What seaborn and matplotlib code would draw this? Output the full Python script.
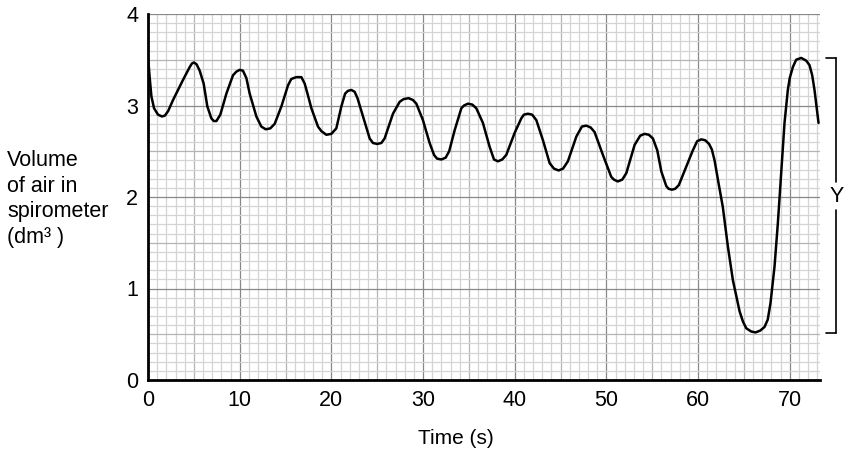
import numpy as np
import pandas as pd
import seaborn as sns
import matplotlib.pyplot as plt

# values
time_s = [0.0, 0.18, 0.37, 0.66, 1.09, 1.53, 1.85, 2.2, 2.73, 3.82, 4.55, 4.8,
          5.02, 5.3, 5.64, 6.07, 6.47, 6.91, 7.17, 7.46, 7.89, 8.55, 9.27,
          9.64, 10.0, 10.36, 10.73, 11.09, 11.82, 12.36, 12.84, 13.34, 13.82,
          14.55, 15.27, 15.63, 16.18, 16.73, 17.09, 17.45, 17.82, 18.54, 18.91,
          19.45, 20.0, 20.54, 21.09, 21.5, 21.81, 22.18, 22.54, 22.85, 23.45,
          24.18, 24.54, 25.0, 25.45, 25.81, 26.72, 27.45, 27.88, 28.43, 28.9,
          29.27, 29.99, 30.72, 31.2, 31.52, 32.0, 32.47, 32.85, 33.45, 34.18,
          34.47, 34.9, 35.37, 35.81, 36.53, 37.26, 37.74, 38.17, 38.64, 39.08,
          39.99, 40.72, 41.0, 41.44, 41.9, 42.36, 43.08, 43.81, 44.28, 44.79,
          45.27, 45.8, 46.72, 47.33, 47.81, 48.28, 48.71, 49.62, 50.53, 50.82,
          51.25, 51.73, 52.17, 53.08, 53.69, 54.17, 54.63, 55.07, 55.55, 55.99,
          56.53, 56.78, 57.14, 57.51, 57.9, 58.71, 59.43, 59.9, 60.35, 60.78,
          61.2, 61.5, 61.8, 62.2, 62.7, 63.25, 63.8, 64.53, 64.89, 65.26, 65.8,
          66.27, 66.78, 67.25, 67.6, 67.9, 68.34, 68.7, 69.07, 69.43, 69.79,
          70.0, 70.34, 70.7, 71.25, 71.8, 72.16, 72.45, 72.7, 73.14]
volume_dm3 = [3.53, 3.31, 3.10, 2.97, 2.90, 2.88, 2.89, 2.94, 3.06, 3.28, 3.42, 3.46,
              3.47, 3.45, 3.38, 3.24, 2.99, 2.86, 2.83, 2.83, 2.90, 3.13, 3.33,
              3.37, 3.39, 3.38, 3.30, 3.13, 2.88, 2.77, 2.74, 2.75, 2.80,
              2.99, 3.22, 3.29, 3.31, 3.31, 3.24, 3.11, 2.97, 2.77, 2.72,
              2.68, 2.69, 2.75, 2.99, 3.13, 3.16, 3.17, 3.15, 3.08, 2.88,
              2.64, 2.59, 2.58, 2.59, 2.64, 2.91, 3.04, 3.07, 3.08, 3.06,
              3.02, 2.84, 2.59, 2.46, 2.42, 2.41, 2.43, 2.50, 2.73, 2.97,
              3.00, 3.02, 3.01, 2.97, 2.81, 2.55, 2.41, 2.39, 2.41, 2.46,
              2.70, 2.86, 2.90, 2.91, 2.90, 2.84, 2.62, 2.37, 2.31, 2.29,
              2.31, 2.39, 2.66, 2.77, 2.78, 2.76, 2.71, 2.46, 2.22, 2.19,
              2.17, 2.19, 2.26, 2.57, 2.67, 2.69, 2.68, 2.64, 2.51, 2.28,
              2.12, 2.09, 2.08, 2.09, 2.13, 2.33, 2.51, 2.61, 2.63, 2.62,
              2.58, 2.52, 2.40, 2.17, 1.89, 1.46, 1.09, 0.75, 0.64, 0.565, 0.53,
              0.52, 0.54, 0.58, 0.66, 0.84, 1.24, 1.71, 2.26, 2.81, 3.17,
              3.30, 3.42, 3.50, 3.52, 3.49, 3.44, 3.33, 3.17, 2.81]
x_ticks = [0, 10, 20, 30, 40, 50, 60, 70]
y_ticks = [0, 1, 2, 3, 4]

df = pd.DataFrame({"t": time_s, "v": volume_dm3})

sns.set_style("white")
plt.rcParams["font.family"] = ["Liberation Sans", "DejaVu Sans"]
plt.rcParams["text.color"] = "black"

fig = plt.figure(figsize=(8.5, 4.58), dpi=100)
ax = fig.add_axes([148 / 850, 1 - 380 / 458, 672 / 850, 366 / 458])
ax.set_xlim(0, 73.3)
ax.set_ylim(0, 4)

# graph paper
for x in np.arange(1, 74, 1):
    c = "#888888" if x % 10 == 0 else ("#b4b4b4" if x % 5 == 0 else "#d4d4d4")
    ax.axvline(x, color=c, lw=0.9, zorder=0)
for y in np.arange(1, 41, 1):
    c = "#888888" if y % 10 == 0 else ("#b4b4b4" if y % 5 == 0 else "#d4d4d4")
    ax.axhline(y / 10, color=c, lw=0.9, zorder=0)

sns.lineplot(data=df, x="t", y="v", color="black", lw=1.8, ax=ax, sort=False,
             solid_joinstyle="round")

for s in ["top", "right"]:
    ax.spines[s].set_visible(False)
for s in ["left", "bottom"]:
    ax.spines[s].set_color("black")
    ax.spines[s].set_linewidth(2)

ax.set_xticks(x_ticks)
ax.set_yticks(y_ticks)
ax.tick_params(length=0, labelsize=15.5, colors="black", labelcolor="black")
ax.tick_params(axis="x", pad=7)
ax.tick_params(axis="y", pad=7)
ax.set_xlabel("")
ax.set_ylabel("")

fig.text(456 / 850, 1 - 439 / 458, "Time (s)", ha="center", va="center",
         fontsize=15, color="black")
fig.text(7 / 850, 1 - 199 / 458, "Volume\nof air in\nspirometer\n(dm³ )",
         ha="left", va="center", fontsize=15.5, linespacing=1.3, color="black")

# bracket Y
kw = dict(color="black", lw=1.2, clip_on=False)
ax.plot([74.0, 75.08], [3.52, 3.52], **kw)
ax.plot([74.0, 75.08], [0.51, 0.51], **kw)
ax.plot([75.08, 75.08], [3.52, 2.16], **kw)
ax.plot([75.08, 75.08], [1.86, 0.51], **kw)
ax.text(75.08, 2.01, "Y", ha="center", va="center", fontsize=15.5, color="black")

fig.savefig("out.png", dpi=100)
